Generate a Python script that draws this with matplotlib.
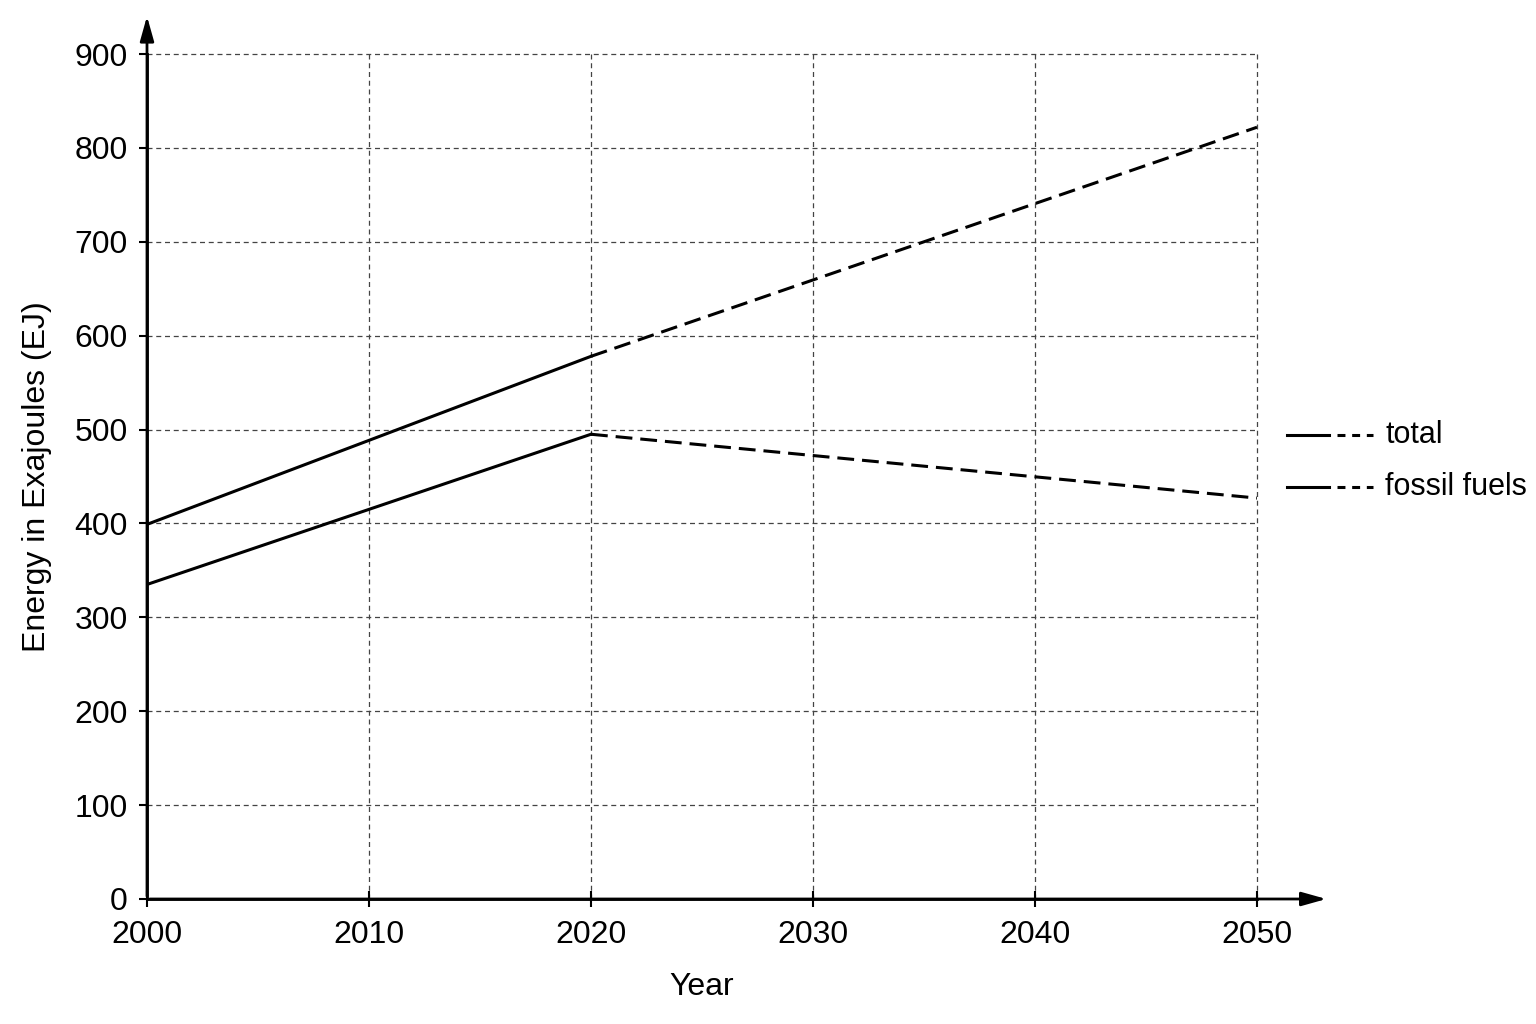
import numpy as np
import matplotlib.pyplot as plt
from matplotlib.lines import Line2D

plt.rcParams['font.family'] = ['Liberation Sans Narrow', 'Liberation Sans', 'DejaVu Sans']

# data
years_hist = [2000, 2020]
years_proj = [2020, 2050]
total_hist = [399, 578]
total_proj = [578, 822]
fossil_hist = [335, 495]
fossil_proj = [495, 427]
xticks = [2000, 2010, 2020, 2030, 2040, 2050]
yticks = [0, 100, 200, 300, 400, 500, 600, 700, 800, 900]
legend_labels = ["total", "fossil fuels"]

fig = plt.figure(figsize=(15.36, 10.24), dpi=100)
ax = fig.add_axes([147/1536, 1 - 899/1024, (1257 - 147)/1536, (899 - 54)/1024])

dash = (0, (5.5, 2.6))
ax.plot(years_hist, total_hist, color="black", lw=2.2, ls="-")
ax.plot(years_proj, total_proj, color="black", lw=2.2, ls=dash)
ax.plot(years_hist, fossil_hist, color="black", lw=2.2, ls="-")
ax.plot(years_proj, fossil_proj, color="black", lw=2.2, ls=dash)

ax.set_xlim(2000, 2050)
ax.set_ylim(0, 900)
ax.set_xticks(xticks)
ax.set_yticks(yticks)
ax.grid(True, color="#444444", lw=0.9, ls=(0, (4, 3)))
for gl in ax.get_xgridlines() + ax.get_ygridlines():
    gl.set_clip_on(False)
ax.tick_params(axis="x", direction="inout", length=12, width=1.5, labelsize=23, pad=9)
ax.tick_params(axis="y", direction="out", length=6, width=1.5, labelsize=23, pad=8)
for s in ["top", "right"]:
    ax.spines[s].set_visible(False)
for s in ["left", "bottom"]:
    ax.spines[s].set_linewidth(2)

# axis arrows
ax.annotate("", xy=(0, 1.048), xytext=(0, 0), xycoords="axes fraction",
            arrowprops=dict(arrowstyle="-|>,head_length=1.5,head_width=0.42", color="black", lw=2),
            annotation_clip=False)
ax.annotate("", xy=(1.065, 0), xytext=(0, 0), xycoords="axes fraction",
            arrowprops=dict(arrowstyle="-|>,head_length=1.5,head_width=0.42", color="black", lw=2),
            annotation_clip=False)

ax.set_xlabel("Year", fontsize=23, labelpad=16)
ax.set_ylabel("Energy in Exajoules (EJ)", fontsize=23, labelpad=16)

# legend: solid then dashed segment
for i, lab in enumerate(legend_labels):
    yy = 1 - (435 + 52 * i) / 1024
    fig.add_artist(Line2D([1287/1536, 1329/1536], [yy, yy], color="black", lw=2.2))
    fig.add_artist(Line2D([1337/1536, 1373/1536], [yy, yy], color="black", lw=2.2,
                          ls=(0, (2.6, 2.2))))
    fig.text(1385/1536, yy, lab, fontsize=22, va="center", ha="left")

fig.savefig("out.png", dpi=100, facecolor="white")
